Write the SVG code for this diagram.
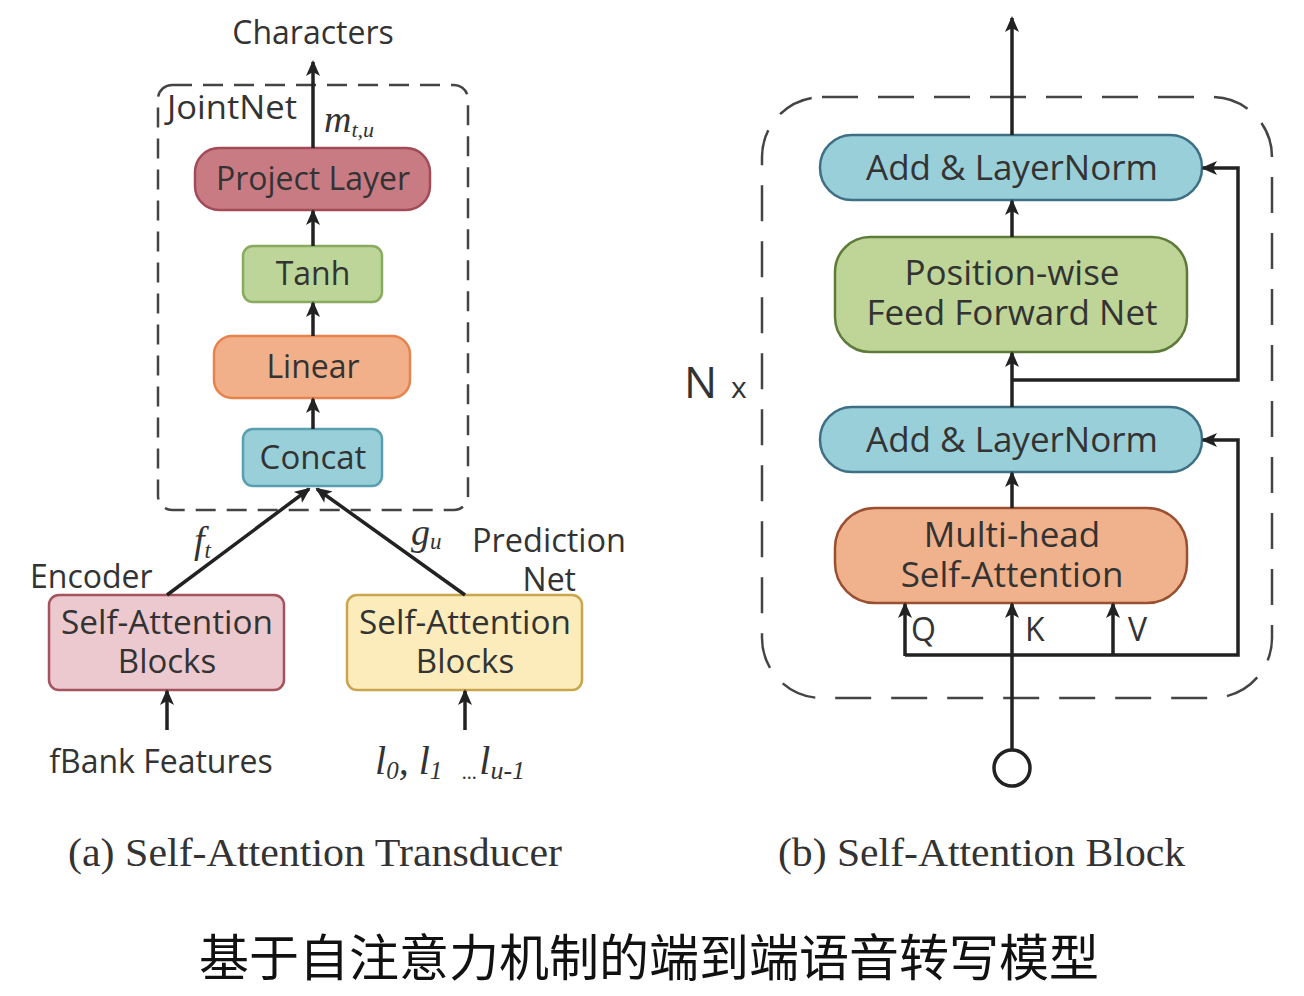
<svg xmlns="http://www.w3.org/2000/svg" width="1304" height="996" viewBox="0 0 1304 996">
<style>
.t{font-family:"Open Sans","Noto Sans",sans-serif;fill:#333;}
.c{text-anchor:middle;}
.m{font-family:"Liberation Serif",serif;font-style:italic;fill:#333;}
.cap{font-family:"Liberation Serif",serif;fill:#333;font-size:39px;}
.ln{stroke:#222;stroke-width:3.5;fill:none;}
.dash{stroke:#444;stroke-width:2.5;fill:none;}
.L{font-size:32px;}
.R{font-size:35px;}
.B{font-size:33px;}
</style>
<defs>
<marker id="ah" markerUnits="userSpaceOnUse" markerWidth="16" markerHeight="14" refX="14" refY="7" orient="auto">
<path d="M0,0 L16,7 L0,14 L4,7 z" fill="#222"/>
</marker>
</defs>
<rect width="1304" height="996" fill="#fff"/>

<!-- Left panel -->
<text class="t c L" x="313" y="44">Characters</text>
<rect class="dash" x="158" y="85" width="310" height="425" rx="14" stroke-dasharray="20 11"/>
<text class="t" x="167" y="119" font-size="33" textLength="130" lengthAdjust="spacingAndGlyphs">JointNet</text>
<text class="m" x="324" y="132" font-size="38">m<tspan font-size="22" dy="5">t,u</tspan></text>

<g id="project">
<rect x="195" y="148" width="235" height="62" rx="24" fill="#c97b84" stroke="#a24b57" stroke-width="2.5"/>
<text class="t c L" x="313" y="190">Project Layer</text>
</g>
<g id="tanh">
<rect x="243" y="246" width="139" height="56" rx="10" fill="#bdd598" stroke="#8aab5f" stroke-width="2.5"/>
<text class="t c L" x="313" y="285">Tanh</text>
</g>
<g id="linear">
<rect x="214" y="336" width="196" height="62" rx="18" fill="#f2b08a" stroke="#e8834e" stroke-width="2.5"/>
<text class="t c L" x="313" y="378">Linear</text>
</g>
<g id="concat">
<rect x="243" y="429" width="139" height="57" rx="10" fill="#99cfd8" stroke="#5a9fb0" stroke-width="2.5"/>
<text class="t c" x="313" y="469" font-size="33">Concat</text>
</g>
<text class="m" x="194" y="553" font-size="38">f<tspan font-size="23" dy="5">t</tspan></text>
<text class="m" x="411" y="545" font-size="38">g<tspan font-size="23" dy="4">u</tspan></text>
<text class="t L" x="30" y="588">Encoder</text>
<text class="t" x="472" y="552" font-size="32.5">Prediction</text>
<text class="t L" x="576" y="591" text-anchor="end">Net</text>

<g id="encoder">
<rect x="49" y="595" width="235" height="95" rx="10" fill="#ecc9cf" stroke="#a5545e" stroke-width="2.5"/>
<text class="t c B" x="167" y="634" textLength="212" lengthAdjust="spacingAndGlyphs">Self-Attention</text>
<text class="t c B" x="167" y="673">Blocks</text>
</g>
<g id="prednet">
<rect x="347" y="595" width="235" height="95" rx="10" fill="#fcecbc" stroke="#c9a64e" stroke-width="2.5"/>
<text class="t c B" x="465" y="634" textLength="212" lengthAdjust="spacingAndGlyphs">Self-Attention</text>
<text class="t c B" x="465" y="673">Blocks</text>
</g>
<text class="t c L" x="161" y="773">fBank Features</text>
<text class="m" x="375" y="774" font-size="40">l<tspan font-size="25" dy="5">0</tspan><tspan dy="-5">, l</tspan><tspan font-size="25" dy="5">1</tspan><tspan font-size="20" dx="20">...</tspan><tspan dx="2" dy="-5">l</tspan><tspan font-size="26" dy="5">u-1</tspan></text>

<text class="cap" x="68" y="866" textLength="494" lengthAdjust="spacingAndGlyphs">(a) Self-Attention Transducer</text>
<text class="cap" x="778" y="866" textLength="407" lengthAdjust="spacingAndGlyphs">(b) Self-Attention Block</text>
<text x="649" y="976" font-size="50" text-anchor="middle" font-family="'Noto Sans CJK SC',sans-serif" fill="#111">基于自注意力机制的端到端语音转写模型</text>

<!-- Right panel -->
<rect class="dash" x="762" y="97" width="510" height="601" rx="60" stroke-dasharray="36 20"/>
<text class="t" x="684" y="398" font-size="44">N</text>
<text class="t" x="731" y="398" font-size="30">x</text>

<g id="addnorm2">
<rect x="820" y="135" width="382" height="65" rx="32" fill="#99cfd8" stroke="#3f6f85" stroke-width="2.5"/>
<text class="t c R" x="1012" y="180">Add &amp; LayerNorm</text>
</g>
<g id="ffn">
<rect x="835" y="237" width="352" height="115" rx="35" fill="#bed597" stroke="#5f7b3a" stroke-width="2.5"/>
<text class="t c R" x="1012" y="285">Position-wise</text>
<text class="t c R" x="1012" y="325">Feed Forward Net</text>
</g>
<g id="addnorm1">
<rect x="820" y="407" width="382" height="65" rx="32" fill="#99cfd8" stroke="#3f6f85" stroke-width="2.5"/>
<text class="t c R" x="1012" y="452">Add &amp; LayerNorm</text>
</g>
<g id="mhsa">
<rect x="835" y="508" width="352" height="95" rx="40" fill="#f0b28d" stroke="#9a4f30" stroke-width="2.5"/>
<text class="t c R" x="1012" y="547">Multi-head</text>
<text class="t c R" x="1012" y="587">Self-Attention</text>
</g>
<g id="input">
<circle cx="1012" cy="768" r="18" fill="#fff" stroke="#222" stroke-width="3.5"/>
</g>
<text class="t" x="911" y="641" font-size="32">Q</text>
<text class="t" x="1025" y="641" font-size="32">K</text>
<text class="t" x="1128" y="641" font-size="32">V</text>

<g id="connectors">
<!-- left -->
<line class="ln" x1="313" y1="148" x2="313" y2="62" marker-end="url(#ah)"/>
<line class="ln" x1="313" y1="246" x2="313" y2="211" marker-end="url(#ah)"/>
<line class="ln" x1="313" y1="336" x2="313" y2="303" marker-end="url(#ah)"/>
<line class="ln" x1="313" y1="429" x2="313" y2="399" marker-end="url(#ah)"/>
<line class="ln" x1="167" y1="595" x2="309" y2="489" marker-end="url(#ah)"/>
<line class="ln" x1="465" y1="595" x2="317" y2="489" marker-end="url(#ah)"/>
<line class="ln" x1="167" y1="730" x2="167" y2="691" marker-end="url(#ah)"/>
<line class="ln" x1="465" y1="730" x2="465" y2="691" marker-end="url(#ah)"/>
<!-- right -->
<line class="ln" x1="1012" y1="135" x2="1012" y2="18" marker-end="url(#ah)" stroke-width="4"/>
<line class="ln" x1="1012" y1="237" x2="1012" y2="201" marker-end="url(#ah)"/>
<line class="ln" x1="1012" y1="407" x2="1012" y2="353" marker-end="url(#ah)"/>
<polyline class="ln" points="1012,380 1238,380 1238,168 1203,168" marker-end="url(#ah)"/>
<line class="ln" x1="1012" y1="508" x2="1012" y2="473" marker-end="url(#ah)"/>
<line class="ln" x1="1012" y1="750" x2="1012" y2="604" marker-end="url(#ah)" stroke-width="4.5"/>
<polyline class="ln" points="905,655 1238,655 1238,440 1203,440" marker-end="url(#ah)"/>
<line class="ln" x1="905" y1="656" x2="905" y2="604" marker-end="url(#ah)"/>
<line class="ln" x1="1113" y1="655" x2="1113" y2="604" marker-end="url(#ah)"/>
</g>
</svg>
